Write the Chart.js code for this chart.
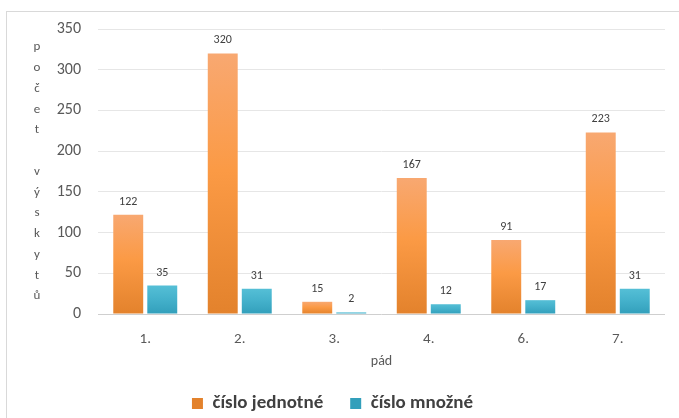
<!DOCTYPE html>
<html><head><meta charset="utf-8">
<script src="https://cdn.jsdelivr.net/npm/chart.js@4.4.1/dist/chart.umd.min.js"></script>
<style>
body{margin:0;background:#fff}
#wrap{position:relative;width:679px;height:418px;overflow:hidden}
#frame{position:absolute;left:6px;top:11px;width:700px;height:420px;border-top:1px solid #d9d9d9;border-left:1px solid #d9d9d9}
canvas{position:absolute;left:0;top:0}
</style></head>
<body><div id="wrap"><div id="frame"></div><canvas id="c" width="679" height="418"></canvas></div>
<script>
const categories = ['1.', '2.', '3.', '4.', '6.', '7.'];
const singularValues = [122, 320, 15, 167, 91, 223];
const pluralValues = [35, 31, 2, 12, 17, 31];
const seriesNames = ['číslo jednotné', 'číslo množné'];
const yMin = 0, yMax = 350, yStep = 50;
const xTitle = 'pád';
const yTitleLetters = ['p', 'o', 'č', 'e', 't', '', 'v', 'ý', 's', 'k', 'y', 't', 'ů'];

const FONT = 'Carlito, Lato, "Liberation Sans", sans-serif';
const orangeStops = ['#f8a871', '#fb9a45', '#e3822c'];
const tealStops = ['#55bfd6', '#45b2cc', '#329fbb'];

function grad(ctx, stops) {
  const chart = ctx.chart;
  if (!chart.chartArea || ctx.type !== 'data') return stops[1];
  const y = chart.scales.y;
  const top = y.getPixelForValue(ctx.raw), bot = y.getPixelForValue(0);
  if (bot - top < 1) return stops[1];
  const g = chart.ctx.createLinearGradient(0, top, 0, bot);
  g.addColorStop(0, stops[0]);
  g.addColorStop(0.45, stops[1]);
  g.addColorStop(1, stops[2]);
  return g;
}

const valueLabels = {
  id: 'valueLabels',
  afterDatasetsDraw(chart) {
    const ctx = chart.ctx;
    ctx.save();
    ctx.font = '12px ' + FONT;
    ctx.fillStyle = '#404040';
    ctx.textAlign = 'center';
    ctx.textBaseline = 'middle';
    chart.data.datasets.forEach((ds, i) => {
      chart.getDatasetMeta(i).data.forEach((bar, j) => {
        ctx.fillText(String(ds.data[j]), bar.x, bar.y - 13);
      });
    });
    ctx.restore();
  }
};

const yTitle = {
  id: 'yTitle',
  afterDraw(chart) {
    const ctx = chart.ctx;
    ctx.save();
    ctx.font = '13px ' + FONT;
    ctx.fillStyle = '#595959';
    ctx.textAlign = 'center';
    ctx.textBaseline = 'middle';
    const top = chart.chartArea.top + 18;
    yTitleLetters.forEach((ch, i) => {
      if (ch) ctx.fillText(ch, 37, top + i * 20.75);
    });
    ctx.restore();
  }
};

new Chart(document.getElementById('c'), {
  type: 'bar',
  data: {
    labels: categories,
    datasets: [
      { label: seriesNames[0], data: singularValues, backgroundColor: c => grad(c, orangeStops), borderWidth: 0 },
      { label: seriesNames[1], data: pluralValues, backgroundColor: c => grad(c, tealStops), borderWidth: 0 }
    ]
  },
  options: {
    responsive: false,
    animation: false,
    devicePixelRatio: 1,
    categoryPercentage: 0.72,
    barPercentage: 0.88,
    layout: { padding: { left: 0, right: 14, top: 29, bottom: -5 } },
    plugins: {
      tooltip: { enabled: false },
      legend: {
        position: 'bottom',
        labels: {
          boxWidth: 11, boxHeight: 11, padding: 27,
          color: '#404040',
          font: { family: FONT, size: 19, weight: 'bold' }
        }
      }
    },
    scales: {
      x: {
        afterFit: s => { s.height = 53; },
        grid: { display: false },
        border: { display: false },
        ticks: { color: '#595959', padding: 8, font: { family: FONT, size: 15 } },
        title: { display: true, text: xTitle, color: '#595959', padding: { top: 0, bottom: -3 }, font: { family: FONT, size: 14 } }
      },
      y: {
        min: yMin, max: yMax,
        afterFit: s => { s.width = 98; },
        grid: { drawTicks: false, color: c => (c.tick && c.tick.value === 0) ? '#cfcfcf' : '#e6e6e6' },
        border: { display: false },
        ticks: { stepSize: yStep, color: '#595959', padding: 17, font: { family: FONT, size: 16 } }
      }
    }
  },
  plugins: [valueLabels, yTitle]
});
</script>
</body></html>
